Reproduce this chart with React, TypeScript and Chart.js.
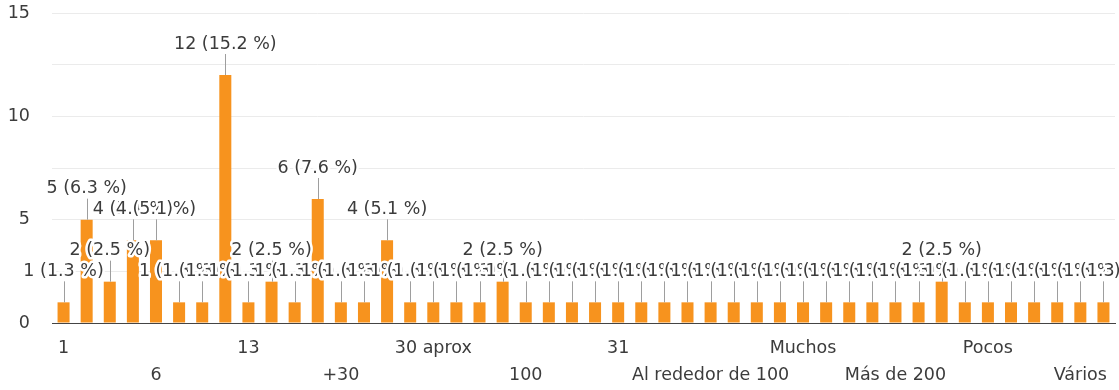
import React, { useEffect, useRef } from 'react';
import { Chart, registerables } from 'chart.js';

Chart.register(...registerables);

// Category names (only every 4th one is legible in the reference; others unknown)
const categories: string[] = [
  '1', '', '', '', '6', '', '', '', '13', '',
  '', '', '+30', '', '', '', '30 aprox', '', '', '',
  '100', '', '', '', '31', '', '', '', 'Al rededor de 100', '',
  '', '', 'Muchos', '', '', '', 'Más de 200', '', '', '',
  'Pocos', '', '', '', 'Vários', '',
];

const counts: number[] = [
  1, 5, 2, 4, 4, 1, 1, 12, 1, 2,
  1, 6, 1, 1, 4, 1, 1, 1, 1, 2,
  1, 1, 1, 1, 1, 1, 1, 1, 1, 1,
  1, 1, 1, 1, 1, 1, 1, 1, 2, 1,
  1, 1, 1, 1, 1, 1,
];

const yTickLabels: number[] = [0, 5, 10, 15];

const FONT = 'DejaVu Sans';
const TEXT = '#3c3c3c';
const BAR = '#f7931e';

const annotationPlugin = {
  id: 'annotations',
  afterDatasetsDraw(chart: any) {
    const ctx = chart.ctx;
    const meta = chart.getDatasetMeta(0);
    const total = counts.reduce((a, b) => a + b, 0);
    ctx.save();
    ctx.font = `17.5px "${FONT}"`;
    ctx.textAlign = 'center';
    ctx.textBaseline = 'middle';
    ctx.lineJoin = 'round';
    meta.data.forEach((el: any, i: number) => {
      const v = counts[i];
      const x = el.x;
      const top = el.y;
      const sx = Math.round(x) + 0.5;
      ctx.strokeStyle = '#9e9e9e';
      ctx.lineWidth = 1;
      ctx.beginPath();
      ctx.moveTo(sx, top);
      ctx.lineTo(sx, top - 21);
      ctx.stroke();
      const text = `${v} (${((v / total) * 100).toFixed(1)} %)`;
      ctx.lineWidth = 5;
      ctx.strokeStyle = '#ffffff';
      ctx.strokeText(text, x, top - 31);
      ctx.fillStyle = TEXT;
      ctx.fillText(text, x, top - 31);
    });
    ctx.restore();
  },
};

export default function App() {
  const ref = useRef<HTMLCanvasElement | null>(null);
  useEffect(() => {
    if (!ref.current) return;
    const chart = new Chart(ref.current, {
      type: 'bar',
      data: {
        labels: categories,
        datasets: [
          {
            data: counts,
            backgroundColor: BAR,
            barPercentage: 0.52,
            categoryPercentage: 1,
          },
        ],
      },
      options: {
        responsive: false,
        animation: false,
        layout: { padding: { top: 13, right: 4, left: 0, bottom: 0 } },
        plugins: {
          legend: { display: false },
          tooltip: { enabled: false },
        },
        scales: {
          x: {
            grid: { display: false, drawTicks: false },
            border: { display: true, color: '#444444', width: 1 },
            ticks: {
              autoSkip: false,
              maxRotation: 0,
              minRotation: 0,
              padding: 11.5,
              color: TEXT,
              font: { family: FONT, size: 17.5, lineHeight: 1.543 },
              callback: (_v: any, idx: number) => {
                const label = categories[idx];
                if (!label) return '';
                const k = Math.round(idx / 4);
                return k % 2 === 0 ? label : ['', label];
              },
            },
            afterFit: (s: any) => {
              s.height = 67;
            },
          },
          y: {
            min: 0,
            max: 15,
            grid: {
              drawTicks: false,
              color: (c: any) => (c.tick && c.tick.value === 0 ? '#444444' : '#ebebeb'),
            },
            border: { display: false },
            ticks: {
              stepSize: 2.5,
              padding: 22,
              color: TEXT,
              font: { family: FONT, size: 17.5 },
              callback: (v: any) => (yTickLabels.includes(Number(v)) ? String(v) : ''),
            },
            afterFit: (s: any) => {
              s.width = 52;
              s.paddingTop = 0;
              s.paddingBottom = 0;
            },
          },
        },
      },
      plugins: [annotationPlugin],
    });
    return () => chart.destroy();
  }, []);
  return (
    <div style={{ position: 'absolute', left: 0, top: 0, width: 1119, height: 390, background: '#fff' }}>
      <canvas ref={ref} width={1119} height={390} style={{ display: 'block' }} />
    </div>
  );
}
